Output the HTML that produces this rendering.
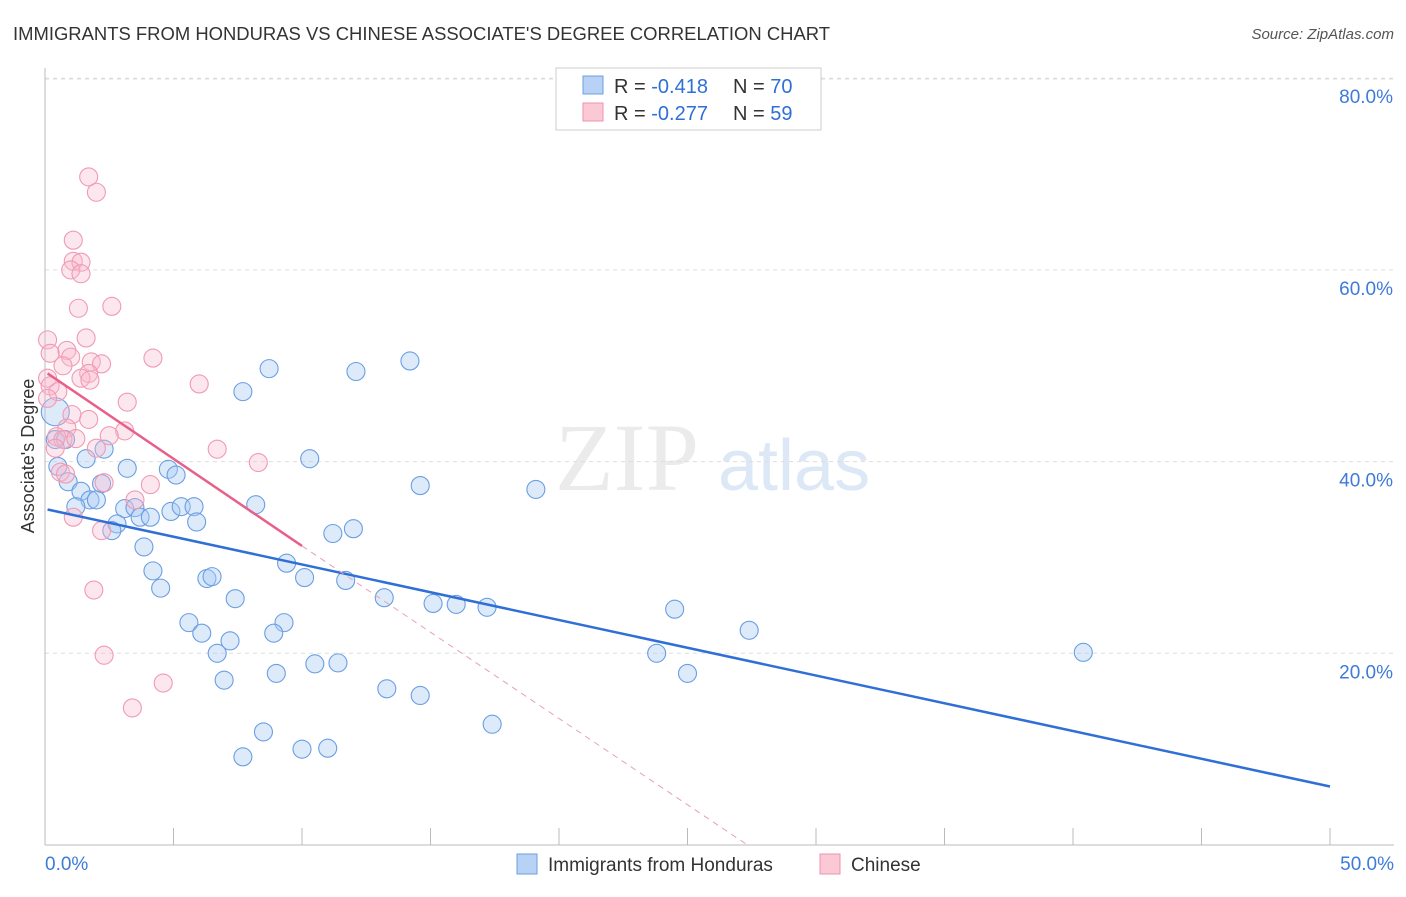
<!DOCTYPE html>
<html><head><meta charset="utf-8"><style>
body{margin:0;background:#fff;font-family:"Liberation Sans",sans-serif}
</style></head><body>
<svg id="chart" width="1406" height="892" xmlns="http://www.w3.org/2000/svg" font-family="Liberation Sans, sans-serif">
<text x="13" y="40" font-size="18" fill="#333" textLength="817" lengthAdjust="spacingAndGlyphs">IMMIGRANTS FROM HONDURAS VS CHINESE ASSOCIATE'S DEGREE CORRELATION CHART</text>
<text x="1394" y="39" font-size="15" fill="#555" text-anchor="end" font-style="italic">Source: ZipAtlas.com</text>
<text x="555" y="490" font-size="96" fill="#ebebeb" font-family="Liberation Serif, serif">ZIP</text>
<text x="718" y="490" font-size="72" fill="#dde8f7">atlas</text>
<g id="grid"></g><g id="axes"></g><g id="pts"></g><g id="lines"></g>
<text transform="translate(34,456) rotate(-90)" font-size="18" fill="#333" text-anchor="middle">Associate's Degree</text>
<g>
<rect x="556" y="68" width="265" height="62" fill="#fff" stroke="#ccc"/>
<rect x="583" y="76" width="20" height="18" fill="#b7d2f5" stroke="#6c9fe0"/>
<rect x="583" y="103" width="20" height="18" fill="#fbc8d6" stroke="#ee93ad"/>
<text x="614" y="93" font-size="20" fill="#333">R = <tspan fill="#2f6fd6">-0.418</tspan><tspan x="733">N = </tspan><tspan fill="#2f6fd6">70</tspan></text>
<text x="614" y="120" font-size="20" fill="#333">R = <tspan fill="#2f6fd6">-0.277</tspan><tspan x="733">N = </tspan><tspan fill="#2f6fd6">59</tspan></text>
</g>
<g>
<rect x="517" y="854" width="20" height="20" fill="#b7d2f5" stroke="#6c9fe0"/>
<text x="548" y="871" font-size="19" fill="#333">Immigrants from Honduras</text>
<rect x="820" y="854" width="20" height="20" fill="#fbc8d6" stroke="#ee93ad"/>
<text x="851" y="871" font-size="19" fill="#333">Chinese</text>
</g>
</svg>
<script>
const yTicks=[20,40,60,80];
const yTickLabels=["20.0%","40.0%","60.0%","80.0%"];
const xTickLabels=["0.0%","50.0%"];
const blueX=[8.72,12.1,14.2,7.7,10.3,14.6,19.1,1.6,2.3,0.5,3.2,4.8,5.1,0.9,1.4,2.2,1.75,2.0,1.2,3.1,3.5,4.9,5.3,5.8,8.2,3.7,4.1,2.8,2.6,5.9,11.2,12.0,3.85,9.4,4.2,6.3,6.5,10.1,11.7,4.5,7.4,13.2,15.1,16.0,17.2,24.5,5.6,9.3,6.1,8.9,27.4,7.2,6.7,23.8,40.4,10.5,11.4,9.0,25.0,6.97,13.3,14.6,17.4,8.5,10.0,11.0,7.7,0.4,0.4,0.8];
const blueY=[49.7,49.4,50.5,47.3,40.3,37.5,37.1,40.3,41.3,39.5,39.3,39.2,38.6,37.9,36.9,37.7,36.0,36.0,35.3,35.1,35.2,34.8,35.3,35.3,35.5,34.2,34.2,33.5,32.8,33.7,32.5,33.0,31.1,29.4,28.6,27.8,28.0,27.9,27.6,26.8,25.7,25.8,25.2,25.1,24.8,24.6,23.2,23.2,22.1,22.1,22.4,21.3,20.0,20.0,20.1,18.9,19.0,17.9,17.9,17.2,16.3,15.6,12.6,11.8,10.0,10.1,9.2,45.2,42.3,42.3];
const pinkX=[1.7,2.0,1.1,1.1,1.4,1.0,1.4,1.3,2.6,0.1,1.6,0.85,0.2,1.0,1.8,2.2,4.2,0.7,1.7,0.1,1.4,1.75,6.0,0.2,0.5,0.1,3.2,1.05,1.7,0.85,3.1,2.5,0.45,0.7,1.2,0.4,2.0,6.7,8.3,0.6,0.8,4.1,2.3,3.5,1.1,2.2,1.9,2.3,4.6,3.4];
const pinkY=[69.7,68.1,63.1,60.9,60.8,60.0,59.6,56.0,56.2,52.7,52.9,51.6,51.3,50.9,50.4,50.2,50.8,50.0,49.2,48.7,48.7,48.5,48.1,47.9,47.3,46.6,46.2,44.9,44.4,43.5,43.2,42.7,42.6,42.3,42.4,41.4,41.4,41.3,39.9,38.9,38.7,37.6,37.8,36.0,34.2,32.8,26.6,19.8,16.9,14.3];
const blueTrend=[35.0,6.1];
const pinkTrend=[49.2,31.2];
const NS="http://www.w3.org/2000/svg";
const X=v=>45+v/50*1285, Y=v=>845-v/20*191.7;
function mk(t,a,p){const e=document.createElementNS(NS,t);for(const k in a)e.setAttribute(k,a[k]);p.appendChild(e);return e;}
const grid=document.getElementById('grid'),axes=document.getElementById('axes'),pts=document.getElementById('pts'),lines=document.getElementById('lines');
mk('line',{x1:45,x2:1394,y1:79,y2:79,stroke:'#ddd','stroke-dasharray':'4,4'},grid);
yTicks.forEach((t,i)=>{
 const g=mk('line',{x1:45,x2:1394,y1:Y(t),y2:Y(t),stroke:'#ddd','stroke-dasharray':'4,4'},grid);
 
 
 const l=mk('text',{x:1393,y:Y(t)+25,'font-size':19,fill:'#3d7bd8','text-anchor':'end'},axes);
 l.textContent=yTickLabels[i];
 
 
});
mk('line',{x1:45,x2:45,y1:68,y2:845,stroke:'#bbb'},axes);
mk('line',{x1:45,x2:1394,y1:845,y2:845,stroke:'#bbb'},axes);
for(let i=0;i<=10;i++){mk('line',{x1:X(i*5),x2:X(i*5),y1:828,y2:845,stroke:'#bbb'},axes);}
const xl0=mk('text',{x:45,y:870,'font-size':19,fill:'#3d7bd8'},axes);xl0.textContent=xTickLabels[0];


const xl1=mk('text',{x:1394,y:870,'font-size':19,fill:'#3d7bd8','text-anchor':'end'},axes);xl1.textContent=xTickLabels[1];


blueX.forEach((x,i)=>{const c=mk('circle',{cx:X(x),cy:Y(blueY[i]),r:i==67?14:9,fill:'rgba(170,202,242,0.4)',stroke:'#6a9fe2','stroke-width':1.1},pts);
 
 });
pinkX.forEach((x,i)=>{const c=mk('circle',{cx:X(x),cy:Y(pinkY[i]),r:9,fill:'rgba(248,185,205,0.35)',stroke:'#f09ab3','stroke-width':1.1},pts);
 
 });
const bl=mk('line',{x1:X(0.1),y1:Y(blueTrend[0]),x2:X(50),y2:Y(blueTrend[1]),stroke:'#2f6fd6','stroke-width':2.5},lines);


const slope=(pinkTrend[1]-pinkTrend[0])/10, x0=-pinkTrend[0]/slope;
const pl=mk('line',{x1:X(0.1),y1:Y(pinkTrend[0]),x2:X(10),y2:Y(pinkTrend[1]),stroke:'#e8608a','stroke-width':2.5},lines);


const pd=mk('line',{x1:X(10),y1:Y(pinkTrend[1]),x2:X(x0),y2:Y(0),stroke:'#e8a0b5','stroke-width':1,'stroke-dasharray':'6,5'},lines);


</script>
</body></html>
